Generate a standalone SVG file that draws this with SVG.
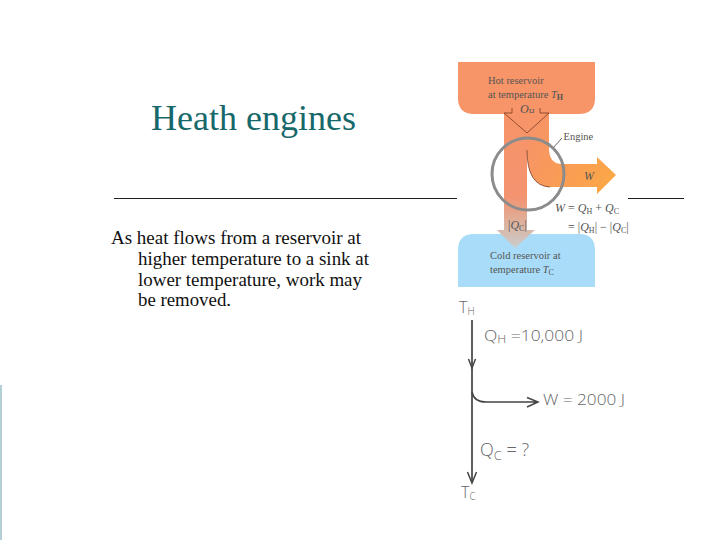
<svg xmlns="http://www.w3.org/2000/svg" width="720" height="540" viewBox="0 0 720 540">
  <style>
    .serif{font-family:"Liberation Serif","Times New Roman",serif}
    .body{font-size:18px;fill:#111}
    .small{font-size:10.5px;fill:#555}
    .hand{font-family:"Open Sans","Liberation Sans",sans-serif;font-weight:300;fill:#666}
    .rule{stroke:#222;stroke-width:1.2;fill:none}
    .ink{stroke:#5f5f5f;fill:none;stroke-width:2}
    .ink2{stroke:#444;fill:none;stroke-width:1.5}
    .thin{stroke:#7a3a22;stroke-width:0.800;fill:none}
  </style>
  <defs>
    <linearGradient id="down" gradientUnits="userSpaceOnUse" x1="0" y1="113" x2="0" y2="248">
      <stop offset="0" stop-color="#F79468"/>
      <stop offset="0.62" stop-color="#F39370"/>
      <stop offset="0.8" stop-color="#DFAF9A"/>
      <stop offset="1" stop-color="#C9CDCE"/>
    </linearGradient>
    <linearGradient id="work" gradientUnits="userSpaceOnUse" x1="527" y1="140" x2="616" y2="185">
      <stop offset="0" stop-color="#F79468"/>
      <stop offset="0.45" stop-color="#F99C55"/>
      <stop offset="1" stop-color="#FBA846"/>
    </linearGradient>
  </defs>
  <rect width="720" height="540" fill="#fff"/>
  <rect x="0" y="385" width="2" height="155" fill="#B4D0D6"/>

  <g id="title"><text class="serif" x="151" y="130" font-size="36" fill="#17686A" textLength="205" lengthAdjust="spacingAndGlyphs">Heath engines</text></g>
  <g id="rules">
    <line class="rule" x1="114" y1="198.500" x2="457" y2="198.500"/>
    <line class="rule" x1="628" y1="198.500" x2="684" y2="198.500"/>
  </g>
  <g id="body" class="serif body">
    <text x="111" y="244" textLength="250" lengthAdjust="spacingAndGlyphs">As heat flows from a reservoir at</text>
    <text x="138" y="265" textLength="231" lengthAdjust="spacingAndGlyphs">higher temperature to a sink at</text>
    <text x="138" y="285.500" textLength="224" lengthAdjust="spacingAndGlyphs">lower temperature, work may</text>
    <text x="138" y="306" textLength="93" lengthAdjust="spacingAndGlyphs">be removed.</text>
  </g>

  <g id="cold-reservoir">
    <path d="M458 287V250Q458 234 474 234H579Q595 234 595 250V287Z" fill="#A9DCF8"/>
    <text class="serif small" x="490" y="259">Cold reservoir at</text>
    <text class="serif small" x="490" y="273">temperature <tspan font-style="italic">T</tspan><tspan font-size="8" dy="1.500">C</tspan></text>
  </g>
  <g id="hot-reservoir">
    <path d="M458 62H595V98Q595 114 579 114H474Q458 114 458 98Z" fill="#F79468"/>
    <text class="serif small" x="488" y="84">Hot reservoir</text>
    <text class="serif small" x="488" y="98">at temperature <tspan font-style="italic">T</tspan><tspan font-size="8" dy="1.500" font-weight="bold">H</tspan></text>
    <text class="serif small" x="520" y="113" font-size="12" style="font-size:12px" font-style="italic">Q<tspan font-size="8" font-style="normal" dy="1.500">H</tspan></text>
  </g>
  <g id="connectors">
    <path id="work-out" d="M527 113H549V150Q550 164 562 164H597V157L616 175L597 194V187H550Q527 186 527 150Z" fill="url(#work)"/>
    <path id="heat-out" d="M504 113H527V230H535L515 248L497 230H504Z" fill="url(#down)"/>
    <path class="thin" d="M504 113H512V108M540 108V113H549M504 113L527 133L549 113"/>
    <path class="thin" d="M527 150Q527 186 550 187"/>
    <line x1="553" y1="148" x2="562" y2="138" stroke="#444" stroke-width="0.800"/>
    <line class="ink" x1="472" y1="320" x2="472" y2="481"/>
    <path class="ink2" d="M468.500 359L472 368L475.500 359M467.500 472L472 483L476.500 472"/>
    <path class="ink2" d="M472 392Q474 402 486 402H537M527 397.500L538 402L527 407"/>
  </g>
  <g id="engine">
    <circle cx="528" cy="174" r="36" fill="none" stroke="#8C8C8C" stroke-width="3"/>
    <text class="serif small" x="563.500" y="140">Engine</text>
  </g>
  <g id="labels" class="serif small">
    <text x="584" y="180" style="font-size:12px" font-style="italic">W</text>
    <text x="508" y="229" style="font-size:12px">|<tspan font-style="italic">Q</tspan><tspan font-size="8" dy="1.500">C</tspan><tspan dy="-1.500">|</tspan></text>
    <text x="555" y="212" style="font-size:12px" font-style="italic">W <tspan font-style="normal">=</tspan> Q<tspan font-size="8" font-style="normal" dy="1.500">H</tspan><tspan dy="-1.500" font-style="normal"> + </tspan>Q<tspan font-size="8" font-style="normal" dy="1.500">C</tspan></text>
    <text x="568" y="231" style="font-size:12px"><tspan font-style="normal">= |</tspan><tspan font-style="italic">Q</tspan><tspan font-size="8" dy="1.500">H</tspan><tspan dy="-1.500">| − |</tspan><tspan font-style="italic">Q</tspan><tspan font-size="8" dy="1.500">C</tspan><tspan dy="-1.500">|</tspan></text>
  </g>
  <g id="hand-labels" class="hand">
    <text x="459" y="313" font-size="16">T<tspan font-size="10" dy="2">H</tspan></text>
    <text x="484" y="341" font-size="14" textLength="99" lengthAdjust="spacingAndGlyphs">Q<tspan font-size="10" dy="2">H</tspan><tspan dy="-2"> =10,000 J</tspan></text>
    <text x="543" y="405" font-size="14" textLength="82" lengthAdjust="spacingAndGlyphs">W = 2000 J</text>
    <text x="480" y="456" font-size="18">Q<tspan font-size="13" dy="4">C</tspan><tspan dy="-4"> = ?</tspan></text>
    <text x="461" y="498" font-size="16">T<tspan font-size="10" dy="2">C</tspan></text>
  </g>
</svg>
